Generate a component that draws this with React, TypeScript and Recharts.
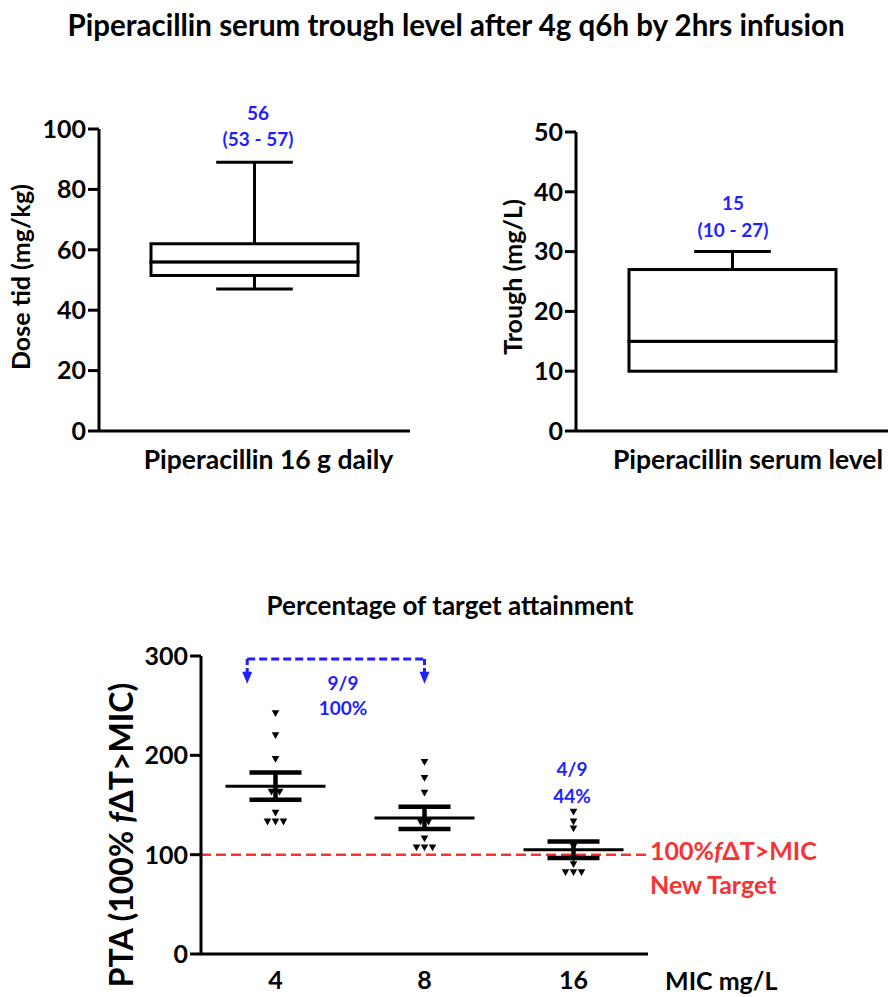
import React from 'react';
import {
  ComposedChart,
  ScatterChart,
  Bar,
  Scatter,
  ErrorBar,
  XAxis,
  YAxis,
  ReferenceLine,
  ReferenceDot
} from 'recharts';

// box plot stats: min, q1, median, q3, max
const doseCategory = ['Piperacillin 16 g daily'];
const doseStats = [47, 51.5, 56, 62, 89];
const troughCategory = ['Piperacillin serum level'];
const troughStats = [10, 10, 15, 27, 30];

const doseTicks = [0, 20, 40, 60, 80, 100];
const troughTicks = [0, 10, 20, 30, 40, 50];
const ptaTicks = [0, 100, 200, 300];

// PTA per patient, by MIC
const micLabels = ['4', '8', '16'];
const pta4 = [242, 220, 196, 163, 163, 142, 133, 133, 133];
const pta8 = [193, 177, 162, 133, 133, 116, 107, 107, 107];
const pta16 = [143, 133, 126, 108, 96, 90, 82, 82, 82];
const ptaMean = [169, 137, 105];
const ptaSem = [13.8, 11.2, 8.3];

// dashed bracket between MIC 4 and MIC 8 (x in MIC slots, y in PTA)
const bracketX = [0.81, 2];
const bracketTop = 297;
const bracketEnd = 284;
const arrowTip = 272;

const BLUE = '#1f1fff';
const RED = '#f43434';

const buildBox = (name: string, s: number[]) => [{
  name,
  base: s[0],
  lw: s[1] - s[0],
  lb: s[2] - s[1],
  ub: s[3] - s[2],
  uw: s[4] - s[3]
}];

const WhiskerUp = (p: any) => {
  const cx = p.x + p.width / 2;
  const cw = p.width * 0.37;
  return (
    <g stroke="#000" strokeWidth={3}>
      <line x1={cx} x2={cx} y1={p.y} y2={p.y + p.height} />
      <line x1={cx - cw / 2} x2={cx + cw / 2} y1={p.y} y2={p.y} />
    </g>
  );
};

const WhiskerDown = (p: any) => {
  if (!p.height) return null;
  const cx = p.x + p.width / 2;
  const cw = p.width * 0.37;
  const yb = p.y + p.height;
  return (
    <g stroke="#000" strokeWidth={3}>
      <line x1={cx} x2={cx} y1={p.y} y2={yb} />
      <line x1={cx - cw / 2} x2={cx + cw / 2} y1={yb} y2={yb} />
    </g>
  );
};

const BoxPart = (p: any) => (
  <rect x={p.x} y={p.y} width={p.width} height={p.height} fill="#fff" stroke="#000" strokeWidth={3} />
);

const tickStyle = { fill: '#000', fontSize: 25, fontWeight: 700 };

const BoxChart = ({ data, ticks, width, height, margin, yWidth, dx }: any) => (
  <ComposedChart width={width} height={height} data={data} margin={margin}>
    <XAxis
      dataKey="name"
      axisLine={{ stroke: '#000', strokeWidth: 3 }}
      tickLine={false}
      tickSize={0}
      tickMargin={19}
      height={30}
      tick={{ ...tickStyle, fontSize: 26.5, dx }}
    />
    <YAxis
      domain={[ticks[0], ticks[ticks.length - 1]]}
      ticks={ticks}
      width={yWidth}
      axisLine={{ stroke: '#000', strokeWidth: 3 }}
      tickLine={{ stroke: '#000', strokeWidth: 3 }}
      tickSize={11}
      tick={tickStyle}
      interval={0}
    />
    <Bar dataKey="base" stackId="a" barSize={207} shape={() => null} isAnimationActive={false} />
    <Bar dataKey="lw" stackId="a" barSize={207} shape={WhiskerDown} isAnimationActive={false} />
    <Bar dataKey="lb" stackId="a" barSize={207} shape={BoxPart} isAnimationActive={false} />
    <Bar dataKey="ub" stackId="a" barSize={207} shape={BoxPart} isAnimationActive={false} />
    <Bar dataKey="uw" stackId="a" barSize={207} shape={WhiskerUp} isAnimationActive={false} />
  </ComposedChart>
);

// points: spread equal values side by side
const buildPoints = () => {
  const out: any[] = [];
  [pta4, pta8, pta16].forEach((vals, gi) => {
    vals.forEach((v, i) => {
      const same = vals.filter(w => w === v);
      const k = vals.slice(0, i).filter(w => w === v).length;
      out.push({ x: gi + 1, y: v, k, n: same.length });
    });
  });
  return out;
};
const points = buildPoints();
const means = ptaMean.map((m, i) => ({ x: i + 1, y: m, sem: ptaSem[i] }));

const Tri = (p: any) => {
  const x = p.cx + (p.payload.k - (p.payload.n - 1) / 2) * 8;
  const y = p.cy;
  return <polygon points={`${x - 3.8},${y - 3.3} ${x + 3.8},${y - 3.3} ${x},${y + 3.5}`} fill="#000" />;
};

const MeanLine = (p: any) => (
  <line x1={p.cx - 50} x2={p.cx + 50} y1={p.cy} y2={p.cy} stroke="#000" strokeWidth={3} />
);

const Arrow = (p: any) => (
  <polygon points={`${p.cx - 5},${p.cy - 12} ${p.cx + 5},${p.cy - 12} ${p.cx},${p.cy}`} fill={BLUE} />
);

const Txt = ({ x, y, children, color = '#000', size = 25, align = 'center', rotate = false }: any) => (
  <div
    style={{
      position: 'absolute',
      left: x,
      top: y,
      color,
      fontSize: size,
      fontWeight: 700,
      whiteSpace: 'nowrap',
      lineHeight: 1,
      transform: rotate
        ? 'translate(-50%, -50%) rotate(-90deg)'
        : align === 'center' ? 'translate(-50%, -50%)' : 'translate(0, -50%)'
    }}
  >
    {children}
  </div>
);

export default function App() {
  return (
    <div style={{ position: 'absolute', left: 0, top: 0, width: 894, height: 997, background: '#fff', fontFamily: 'Lato, sans-serif', overflow: 'hidden' }}>
      <Txt x={456} y={25} size={29.5}>Piperacillin serum trough level after 4g q6h by 2hrs infusion</Txt>

      <div style={{ position: 'absolute', left: 0, top: 90 }}>
        <BoxChart
          data={buildBox(doseCategory[0], doseStats)}
          ticks={doseTicks}
          width={430}
          height={400}
          margin={{ top: 39, right: 20, bottom: 29, left: 0 }}
          yWidth={99}
          dx={14}
        />
      </div>
      <Txt x={20} y={277} rotate>Dose tid (mg/kg)</Txt>
      <Txt x={258} y={112} color={BLUE} size={19}>56</Txt>
      <Txt x={258} y={138} color={BLUE} size={19}>(53 - 57)</Txt>

      <div style={{ position: 'absolute', left: 450, top: 90 }}>
        <BoxChart
          data={buildBox(troughCategory[0], troughStats)}
          ticks={troughTicks}
          width={444}
          height={400}
          margin={{ top: 42, right: 6, bottom: 29, left: 0 }}
          yWidth={126}
          dx={16}
        />
      </div>
      <Txt x={512} y={277} rotate>Trough (mg/L)</Txt>
      <Txt x={733} y={202} color={BLUE} size={19}>15</Txt>
      <Txt x={733} y={229} color={BLUE} size={19}>(10 - 27)</Txt>

      <Txt x={450} y={605} size={26}>Percentage of target attainment</Txt>
      <div style={{ position: 'absolute', left: 0, top: 600 }}>
        <ScatterChart width={894} height={397} margin={{ top: 56, right: 246, bottom: 13, left: 0 }}>
          <XAxis
            type="number"
            dataKey="x"
            domain={[0.5, 3.5]}
            ticks={[1, 2, 3]}
            tickFormatter={(v: number) => micLabels[v - 1]}
            axisLine={{ stroke: '#000', strokeWidth: 3 }}
            tickLine={false}
            tickSize={0}
            tickMargin={17}
            height={30}
            tick={tickStyle}
          />
          <YAxis
            type="number"
            dataKey="y"
            domain={[0, 300]}
            ticks={ptaTicks}
            width={201}
            axisLine={{ stroke: '#000', strokeWidth: 3 }}
            tickLine={{ stroke: '#000', strokeWidth: 3 }}
            tickSize={11}
            tick={tickStyle}
            interval={0}
          />
          <ReferenceLine y={100} stroke={RED} strokeWidth={2.5} strokeDasharray="10 5" />
          <ReferenceLine
            segment={[{ x: bracketX[0], y: bracketTop }, { x: bracketX[1], y: bracketTop }]}
            stroke={BLUE} strokeWidth={3} strokeDasharray="8 4"
          />
          {bracketX.map(bx => (
            <ReferenceLine
              key={`v${bx}`}
              segment={[{ x: bx, y: bracketTop }, { x: bx, y: bracketEnd }]}
              stroke={BLUE} strokeWidth={3} strokeDasharray="6 3"
            />
          ))}
          {bracketX.map(bx => (
            <ReferenceDot key={`a${bx}`} x={bx} y={arrowTip} r={0} shape={Arrow} />
          ))}
          <Scatter data={points} shape={Tri} isAnimationActive={false} />
          <Scatter data={means} shape={MeanLine} isAnimationActive={false}>
            <ErrorBar dataKey="sem" direction="y" width={26} strokeWidth={4.5} stroke="#000" />
          </Scatter>
        </ScatterChart>
      </div>
      <Txt x={121} y={835} rotate size={32}>PTA (100% <i>f</i>ΔT&gt;MIC)</Txt>
      <Txt x={343} y={682} color={BLUE} size={19}>9/9</Txt>
      <Txt x={343} y={707} color={BLUE} size={19}>100%</Txt>
      <Txt x={572} y={768} color={BLUE} size={19}>4/9</Txt>
      <Txt x={572} y={795} color={BLUE} size={19}>44%</Txt>
      <Txt x={650} y={850} color={RED} align="left">100%<i>f</i>ΔT&gt;MIC</Txt>
      <Txt x={650} y={884} color={RED} align="left">New Target</Txt>
      <Txt x={665} y={980} align="left">MIC mg/L</Txt>
    </div>
  );
}
